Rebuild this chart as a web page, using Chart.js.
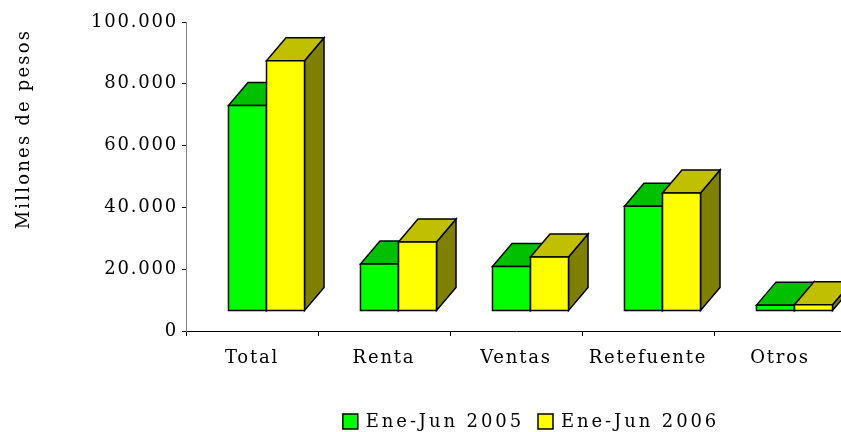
<!DOCTYPE html>
<html>
<head>
<meta charset="utf-8">
<script src="https://cdn.jsdelivr.net/npm/chart.js"></script>
<style>
  html, body { margin: 0; padding: 0; background: #fff; overflow: hidden; }
  #wrap { width: 860px; height: 432px; }
</style>
</head>
<body>
<div id="wrap"><canvas id="grafico" width="860" height="432"></canvas></div>
<script>

// DATOS

const categorias = ['Total', 'Renta', 'Ventas', 'Retefuente', 'Otros'];

const serie2005 = [66500, 15200, 14400, 33900, 1900];

const serie2006 = [81000, 22300, 17500, 38200, 2000];

const nombresSeries = ['Ene-Jun 2005', 'Ene-Jun 2006'];

const ticksY = [0, 20000, 40000, 60000, 80000, 100000];

const tituloY = 'Millones de pesos';

// COLORES (frente, tapa, lado)

const colores = [
    { frente: '#00ff00', tapa: '#00c000', lado: '#008000' },
    { frente: '#ffff00', tapa: '#c0c000', lado: '#808000' }
];

const FUENTE = 'DejaVu Serif';

// efecto 3D
const FONDO_X = 19.5;
const FONDO_Y = 23;
const DESPLAZ_X = 14.5;
const ELEVA_Y = 20;

function miles(v) {
    return String(v).replace(/\B(?=(\d{3})+(?!\d))/g, '.');
}

function poligono(ctx, pts, color) {
    ctx.beginPath();
    ctx.moveTo(pts[0][0], pts[0][1]);
    for (let k = 1; k < pts.length; k++) ctx.lineTo(pts[k][0], pts[k][1]);
    ctx.closePath();
    ctx.fillStyle = color;
    ctx.fill();
    ctx.stroke();
}

// ESPACIADO DE LETRAS

const espaciado = {
    id: 'espaciado',
    beforeUpdate(chart) { chart.ctx.letterSpacing = '1.8px'; },
    beforeDraw(chart) { chart.ctx.letterSpacing = '1.8px'; }
};

// BARRAS 3D

const barras3D = {
    id: 'barras3D',
    beforeDatasetsDraw(chart) {
        const ctx = chart.ctx;
        ctx.save();
        ctx.lineWidth = 1.5;
        ctx.strokeStyle = '#000';
        for (let i = 0; i < categorias.length; i++) {
            chart.data.datasets.forEach((ds, d) => {
                const el = chart.getDatasetMeta(d).data[i];
                const x0 = el.x - el.width / 2 + DESPLAZ_X;
                const x1 = x0 + el.width;
                const y0 = el.y - ELEVA_Y;
                const y1 = el.base - ELEVA_Y;
                const c = colores[d];
                poligono(ctx, [[x1, y0], [x1 + FONDO_X, y0 - FONDO_Y], [x1 + FONDO_X, y1 - FONDO_Y], [x1, y1]], c.lado);
                poligono(ctx, [[x0, y0], [x0 + FONDO_X, y0 - FONDO_Y], [x1 + FONDO_X, y0 - FONDO_Y], [x1, y0]], c.tapa);
                poligono(ctx, [[x0, y0], [x1, y0], [x1, y1], [x0, y1]], c.frente);
            });
        }
        ctx.restore();
        return false;
    }
};

// LEYENDA Y TITULO

const extras = {
    id: 'extras',
    afterDraw(chart) {
        const ctx = chart.ctx;
        ctx.save();

        // titulo eje Y
        ctx.font = '18px "' + FUENTE + '"';
        ctx.letterSpacing = '2.2px';
        ctx.fillStyle = '#000';
        ctx.translate(28.5, 129);
        ctx.rotate(-Math.PI / 2);
        ctx.textAlign = 'center';
        ctx.textBaseline = 'alphabetic';
        ctx.fillText(tituloY, 0, 0);
        ctx.setTransform(1, 0, 0, 1, 0, 0);

        // leyenda
        ctx.letterSpacing = '2.9px';
        ctx.textAlign = 'left';
        const caja = 15, hueco = 8, sep = 14;
        const anchos = nombresSeries.map(t => ctx.measureText(t).width);
        let total = 0;
        anchos.forEach((w, k) => { total += caja + hueco + w + (k ? sep : 0); });
        let x = 531 - total / 2;
        nombresSeries.forEach((t, k) => {
            ctx.fillStyle = colores[k].frente;
            ctx.fillRect(x, 414, caja, caja);
            ctx.lineWidth = 1.5;
            ctx.strokeStyle = '#000';
            ctx.strokeRect(x, 414, caja, caja);
            ctx.fillStyle = '#000';
            ctx.fillText(t, x + caja + hueco, 427);
            x += caja + hueco + anchos[k] + sep;
        });
        ctx.restore();
    }
};

// GRAFICO

const ctx = document.getElementById('grafico');

new Chart(ctx, {
    type: 'bar',
    data: {
        labels: categorias,
        datasets: [
            { label: nombresSeries[0], data: serie2005, backgroundColor: colores[0].frente },
            { label: nombresSeries[1], data: serie2006, backgroundColor: colores[1].frente }
        ]
    },
    options: {
        responsive: false,
        animation: false,
        categoryPercentage: 0.576,
        barPercentage: 1,
        layout: { padding: { top: 22, left: 0, right: 14, bottom: 0 } },
        plugins: {
            legend: { display: false },
            tooltip: { enabled: false }
        },
        scales: {
            x: {
                afterFit: s => { s.height = 101; },
                grid: { offset: true, drawOnChartArea: false, tickLength: 5, color: '#000' },
                border: { color: '#000', width: 1 },
                ticks: { color: '#000', padding: 12, maxRotation: 0, font: { family: FUENTE, size: 18 } }
            },
            y: {
                min: 0,
                max: 100000,
                afterFit: s => { s.width = 186; },
                afterBuildTicks: s => { s.ticks = ticksY.map(v => ({ value: v })); },
                grid: { drawOnChartArea: false, tickLength: 4, color: '#000' },
                border: { color: '#808080', width: 1 },
                ticks: {
                    color: '#000',
                    padding: 4,
                    font: { family: FUENTE, size: 18 },
                    callback: v => miles(v)
                }
            }
        }
    },
    plugins: [espaciado, barras3D, extras]
});

</script>
</body>
</html>
